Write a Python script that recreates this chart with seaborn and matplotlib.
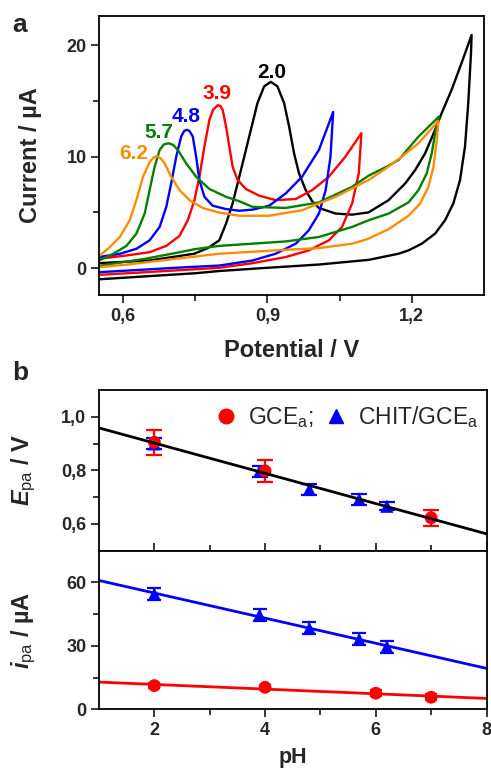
import numpy as np
import matplotlib
matplotlib.use('Agg')
import matplotlib.pyplot as plt
import seaborn as sns
from matplotlib.lines import Line2D

# ---------------- data: panel a (cyclic voltammograms) ----------------
ph_labels = ['2.0', '3.9', '4.8', '5.7', '6.2']
curve_colors = ['#000000', '#FF0000', '#0000FF', '#008000', '#FF8C00']

E_20 = [0.548, 0.6552, 0.748, 0.776, 0.800, 0.814, 0.8276, 0.8415, 0.8553, 0.869, 0.8793, 0.8932,
        0.907, 0.9207, 0.9346, 0.945, 0.9553, 0.9656, 0.9795, 0.993, 1.007, 1.0415, 1.076, 1.110,
        1.1518, 1.1725, 1.1864, 1.2071, 1.2277, 1.2484, 1.2621, 1.2828, 1.3035, 1.3242,
        1.323, 1.3173, 1.3105, 1.3002, 1.2863, 1.2691, 1.2484, 1.2208, 1.1932, 1.1725, 1.1105,
        1.007, 0.886, 0.800, 0.750, 0.650, 0.548]
I_20 = [0.45, 0.69, 1.3, 1.8, 2.5, 4.0, 5.8, 8.2, 10.6, 13.0, 14.8, 16.3,
        16.7, 16.3, 14.8, 12.7, 10.3, 8.5, 7.0, 6.0, 5.4, 4.9, 4.8, 5.0,
        6.1, 7.0, 7.6, 8.8, 10.3, 12.4, 13.9, 16.0, 18.4, 20.9,
        19.3, 14.8, 10.9, 7.9, 5.8, 4.3, 3.1, 2.2, 1.6, 1.3, 0.75,
        0.33, 0.0, -0.25, -0.45, -0.72, -1.0]

E_39 = [0.548, 0.607, 0.6552, 0.6898, 0.7173, 0.7345, 0.7484, 0.7587, 0.769, 0.7794, 0.787, 0.7966,
        0.802, 0.8069, 0.814, 0.8208, 0.8276, 0.838, 0.8553, 0.8828, 0.9173, 0.9587, 0.993, 1.0277,
        1.062, 1.0953,
        1.0898, 1.076, 1.055, 1.0277, 0.986, 0.938, 0.869, 0.800, 0.748, 0.645, 0.548]
I_39 = [0.84, 1.14, 1.44, 2.0, 2.9, 4.3, 6.1, 8.2, 10.9, 13.3, 14.2, 14.6,
        14.55, 14.2, 12.7, 10.9, 9.1, 7.9, 7.1, 6.5, 6.1, 6.2, 7.0, 8.2,
        10.0, 12.1,
        8.5, 5.8, 3.7, 2.5, 1.6, 1.0, 0.45, 0.04, -0.1, -0.36, -0.6]

E_48 = [0.548, 0.5932, 0.6277, 0.6552, 0.676, 0.6898, 0.700, 0.7105, 0.7208, 0.727, 0.7324, 0.738,
        0.7449, 0.7518, 0.7587, 0.769, 0.7862, 0.8139, 0.8415, 0.869, 0.9035, 0.938, 0.972, 1.007,
        1.0366,
        1.031, 1.021, 1.007, 0.986, 0.959, 0.917, 0.869, 0.800, 0.714, 0.610, 0.548]
I_48 = [0.99, 1.29, 1.74, 2.5, 3.7, 5.5, 7.6, 10.0, 11.8, 12.3, 12.4, 12.3,
        11.8, 10.0, 7.9, 6.4, 5.6, 5.3, 5.15, 5.25, 5.6, 6.7, 8.2, 10.6,
        14.0,
        10.0, 7.0, 4.9, 3.4, 2.2, 1.3, 0.69, 0.24, 0.05, -0.21, -0.36]

E_57 = [0.548, 0.5794, 0.607, 0.6277, 0.6449, 0.6552, 0.6656, 0.676, 0.685, 0.6946, 0.704, 0.7138,
        0.7311, 0.7518, 0.7794, 0.8139, 0.8415, 0.869, 0.938, 1.007, 1.076, 1.1105, 1.148, 1.1725,
        1.214, 1.2567,
        1.2484, 1.2415, 1.231, 1.2139, 1.1932, 1.1725, 1.1518, 1.1105, 1.076, 1.007, 0.938, 0.869,
        0.800, 0.748, 0.714, 0.645, 0.576, 0.548]
I_57 = [0.65, 1.29, 2.0, 3.1, 4.9, 7.0, 9.1, 10.6, 11.1, 11.2, 11.05, 10.6,
        9.4, 8.2, 7.1, 6.4, 6.0, 5.5, 5.4, 5.9, 7.3, 8.3, 9.1, 9.7,
        11.8, 13.6,
        12.1, 10.3, 8.5, 7.0, 5.9, 5.4, 4.9, 4.3, 3.7, 2.8, 2.4, 2.2,
        2.0, 1.7, 1.4, 0.84, 0.39, 0.18]

E_62 = [0.548, 0.5725, 0.5932, 0.6139, 0.6277, 0.6414, 0.6552, 0.663, 0.6704, 0.678, 0.6863, 0.700,
        0.7173, 0.738, 0.7655, 0.800, 0.8415, 0.9035, 0.972, 1.0415, 1.110, 1.145, 1.1794, 1.214,
        1.2553,
        1.2518, 1.245, 1.2346, 1.2174, 1.1932, 1.1725, 1.152, 1.107, 1.076, 1.007, 0.938, 0.800,
        0.679, 0.610, 0.548]
I_62 = [1.0, 1.9, 2.8, 4.3, 6.1, 8.2, 9.5, 9.9, 10.04, 9.85, 9.4, 8.2,
        7.0, 6.1, 5.4, 4.98, 4.7, 4.7, 5.2, 6.4, 7.9, 8.9, 10.0, 11.2,
        13.2,
        11.5, 9.1, 7.3, 5.8, 4.7, 4.1, 3.5, 2.6, 2.2, 1.8, 1.65, 1.3,
        0.69, 0.33, 0.09]

label_E = [0.908, 0.796, 0.732, 0.674, 0.622]
label_I = [17.55, 15.7, 13.63, 12.19, 10.3]

# ---------------- data: panel b ----------------
gce_pH_E = [2.0, 4.0, 7.0]
gce_Epa = [0.905, 0.798, 0.623]
gce_Epa_err = [0.046, 0.040, 0.030]
chit_pH = [2.0, 3.9, 4.8, 5.7, 6.2]
chit_Epa = [0.899, 0.796, 0.729, 0.692, 0.666]
chit_Epa_err = [0.020, 0.020, 0.020, 0.020, 0.015]

gce_pH_i = [2.0, 4.0, 6.0, 7.0]
gce_ipa = [11.2, 10.4, 7.6, 5.7]
gce_ipa_err = [1.3, 1.3, 1.3, 1.3]
chit_ipa = [54.5, 44.6, 38.3, 33.1, 29.6]
chit_ipa_err = [2.8, 2.8, 2.8, 2.8, 2.8]

xticks_a = [0.6, 0.9, 1.2]
xticklabels_a = ['0,6', '0,9', '1,2']
yticks_a = [0, 10, 20]
yticks_bt = [0.6, 0.8, 1.0]
yticklabels_bt = ['0,6', '0,8', '1,0']
yticks_bb = [0, 30, 60]
xticks_b = [2, 4, 6, 8]

# ---------------- style ----------------
sns.set_theme(style='ticks')
plt.rcParams['font.family'] = ['Liberation Sans', 'DejaVu Sans']
plt.rcParams['mathtext.fontset'] = 'custom'
plt.rcParams['mathtext.rm'] = 'Liberation Sans'
plt.rcParams['mathtext.it'] = 'Liberation Sans:italic:bold'
plt.rcParams['mathtext.bf'] = 'Liberation Sans:bold'
plt.rcParams['axes.linewidth'] = 1.3

TICK_FS = 13
LABEL_FS = 17

fig = plt.figure(figsize=(4.91, 7.71), dpi=100)


def style_ticks(ax, xdir='out'):
    ax.tick_params(axis='both', which='major', length=6, width=1.3, labelsize=TICK_FS, pad=3)
    ax.tick_params(axis='both', which='minor', length=4, width=1.3)
    ax.tick_params(axis='x', which='both', direction=xdir)
    ax.tick_params(axis='y', which='both', direction='out')
    for lbl in ax.get_xticklabels() + ax.get_yticklabels():
        lbl.set_fontweight('bold')
    for s in ax.spines.values():
        s.set_visible(True)
        s.set_linewidth(1.3)
        s.set_color('black')


# ---------------- panel a ----------------
axA = fig.add_axes([99 / 491, 1 - 295 / 771, 385 / 491, 279 / 771])
curves = [(E_20, I_20), (E_39, I_39), (E_48, I_48), (E_57, I_57), (E_62, I_62)]
for (E, I), col in zip(curves, curve_colors):
    sns.lineplot(x=E, y=I, sort=False, estimator=None, color=col, lw=1.7, ax=axA)
for lab, e, i, col in zip(ph_labels, label_E, label_I, curve_colors):
    axA.text(e, i, lab, color=col, ha='center', va='center', fontsize=15, fontweight='bold')
axA.set_xlim(0.55, 1.35)
axA.set_ylim(-2.4, 22.6)
axA.set_xticks(xticks_a, labels=xticklabels_a)
axA.set_xticks([0.75, 1.05], minor=True)
axA.set_yticks(yticks_a, labels=[str(v) for v in yticks_a])
axA.set_yticks([5, 15], minor=True)
axA.set_xlabel('Potential / V', fontsize=LABEL_FS, fontweight='bold')
axA.set_ylabel('Current / µA', fontsize=LABEL_FS, fontweight='bold')
axA.xaxis.set_label_coords(0.5, -0.158)
axA.yaxis.set_label_coords(-0.148, 0.5)
style_ticks(axA)

# ---------------- panel b top ----------------
axT = fig.add_axes([99 / 491, 1 - 550.7 / 771, 387.5 / 491, 160.7 / 771])
axT.set_xlim(1, 8)
axT.set_ylim(0.5, 1.1)
axT.errorbar(gce_pH_E, gce_Epa, yerr=gce_Epa_err, fmt='none', ecolor='#FF0000',
             elinewidth=1.6, capsize=6, capthick=1.6, zorder=3)
axT.errorbar(chit_pH, chit_Epa, yerr=chit_Epa_err, fmt='none', ecolor='#0000FF',
             elinewidth=1.6, capsize=6, capthick=1.6, zorder=3)
sns.scatterplot(x=chit_pH, y=chit_Epa, marker='^', color='#0000FF', s=90, edgecolor='none',
                ax=axT, zorder=4)
sns.scatterplot(x=gce_pH_E, y=gce_Epa, marker='o', color='#FF0000', s=85, edgecolor='none',
                ax=axT, zorder=4)
sns.regplot(x=np.array(gce_pH_E + chit_pH), y=np.array(gce_Epa + chit_Epa), scatter=False,
            ci=None, truncate=False, color='black', line_kws={'lw': 2.0, 'zorder': 5}, ax=axT)
axT.set_xlim(1, 8)
axT.set_ylim(0.5, 1.1)
axT.set_xticks(xticks_b, labels=['' for _ in xticks_b])
axT.set_xticks([3, 5, 7], minor=True)
axT.set_yticks(yticks_bt, labels=yticklabels_bt)
axT.set_yticks([0.7, 0.9], minor=True)
axT.set_xlabel('')
axT.set_ylabel(r'$E_{\mathrm{pa}}$ / V', fontsize=LABEL_FS, fontweight='bold')
axT.yaxis.set_label_coords(-0.157, 0.5)
style_ticks(axT, xdir='in')
axT.tick_params(axis='x', which='both', labelbottom=False)

handles = [Line2D([], [], marker='o', ls='none', color='#FF0000', markersize=10.5),
           Line2D([], [], marker='^', ls='none', color='#0000FF', markersize=10.5)]
axT.legend(handles, [r'GCE$_{\mathrm{a}}$;', r'CHIT/GCE$_{\mathrm{a}}$'], ncol=2, frameon=False,
           loc='center right', bbox_to_anchor=(0.985, 0.83), borderaxespad=0, borderpad=0.1,
           handletextpad=0.45, columnspacing=0.5, handlelength=1.0, fontsize=16.5)

# ---------------- panel b bottom ----------------
axB = fig.add_axes([99 / 491, 1 - 709.3 / 771, 387.5 / 491, 158.6 / 771])
axB.set_xlim(1, 8)
axB.set_ylim(0, 75)
axB.errorbar(chit_pH, chit_ipa, yerr=chit_ipa_err, fmt='none', ecolor='#0000FF',
             elinewidth=1.6, capsize=5, capthick=1.6, zorder=3)
axB.errorbar(gce_pH_i, gce_ipa, yerr=gce_ipa_err, fmt='none', ecolor='#FF0000',
             elinewidth=1.6, capsize=4, capthick=1.6, zorder=3)
sns.regplot(x=np.array(chit_pH), y=np.array(chit_ipa), scatter=False, ci=None, truncate=False,
            color='#0000FF', line_kws={'lw': 2.0}, ax=axB)
sns.regplot(x=np.array(gce_pH_i), y=np.array(gce_ipa), scatter=False, ci=None, truncate=False,
            color='#FF0000', line_kws={'lw': 2.0}, ax=axB)
sns.scatterplot(x=chit_pH, y=chit_ipa, marker='^', color='#0000FF', s=90, edgecolor='none',
                ax=axB, zorder=4)
sns.scatterplot(x=gce_pH_i, y=gce_ipa, marker='o', color='#FF0000', s=85, edgecolor='none',
                ax=axB, zorder=4)
axB.set_xlim(1, 8)
axB.set_ylim(0, 75)
axB.set_xticks(xticks_b, labels=[str(v) for v in xticks_b])
axB.set_xticks([3, 5, 7], minor=True)
axB.set_yticks(yticks_bb, labels=[str(v) for v in yticks_bb])
axB.set_yticks([15, 45], minor=True)
axB.set_xlabel('pH', fontsize=15.5, fontweight='bold')
axB.set_ylabel(r'$i_{\mathrm{pa}}$ / µA', fontsize=LABEL_FS, fontweight='bold')
axB.xaxis.set_label_coords(0.5, -0.235)
axB.yaxis.set_label_coords(-0.157, 0.5)
style_ticks(axB)

# panel letters
fig.text(12 / 491, 1 - 25 / 771, 'a', fontsize=19, fontweight='bold', va='center', ha='left')
fig.text(12 / 491, 1 - 373 / 771, 'b', fontsize=19, fontweight='bold', va='center', ha='left')

fig.savefig('out.png', dpi=100)
